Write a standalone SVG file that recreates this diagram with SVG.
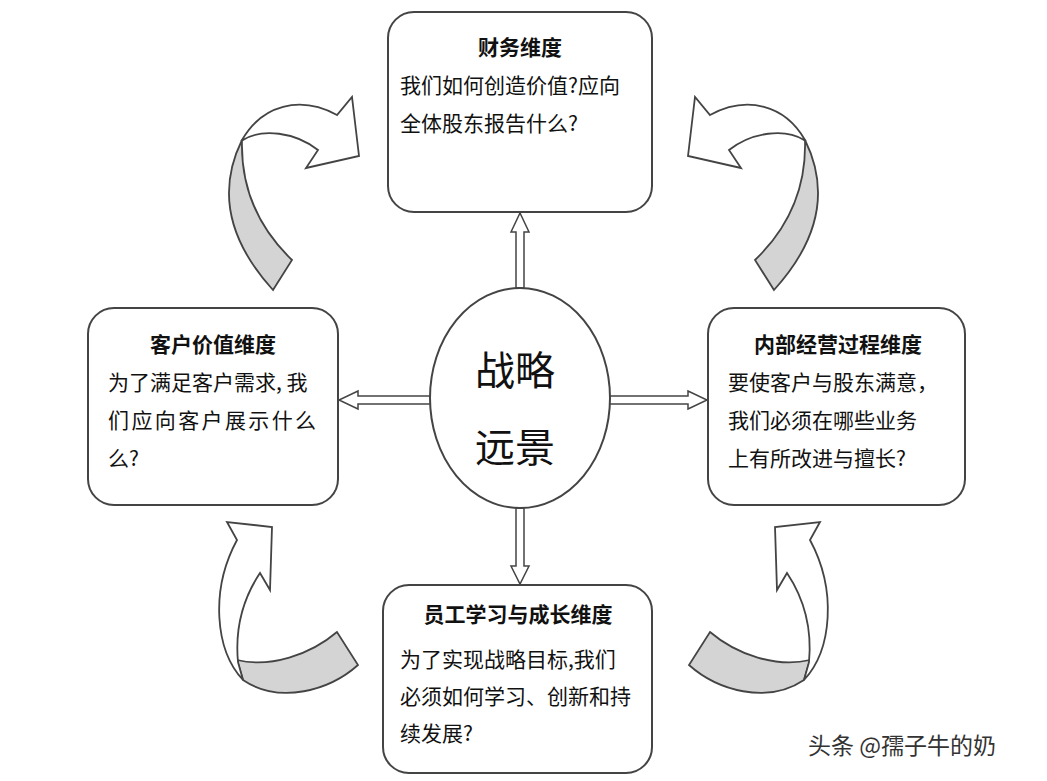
<svg xmlns="http://www.w3.org/2000/svg" width="1047" height="781" viewBox="0 0 1047 781">
<style>
.box{fill:#fff;stroke:#444;stroke-width:2}
.t{font-family:"Noto Sans CJK SC","Liberation Sans",sans-serif;font-size:21px;fill:#111}
.b{font-weight:bold;text-anchor:middle}
.big{font-size:40px;text-anchor:middle}
.band{fill:#d4d4d4;stroke:#444;stroke-width:1.8}
.head{fill:#fff;stroke:#444;stroke-width:1.8}
.da{fill:#fff;stroke:#444;stroke-width:1.5}
</style>
<defs>
<g id="curl-tl">
<path class="band" d="M273,290 Q205,215 242,140 Q240,210 292,260 Z"/>
<path class="head" d="M242,140 C262,105 300,95 337,115 L352,97 L359,156 L306,168 L318,150 C295,132 262,128 243,140 Z"/>
</g>
<g id="curl-bl">
<path class="band" d="M358,665 C330,690 280,705 243,680 L237,660 C270,668 310,655 337,632 Z"/>
<path class="head" d="M243,680 C215,650 210,590 237,540 L227,522 L272,527 L270,590 L260,573 C242,600 235,630 238,662 Z"/>
</g>
</defs>
<rect width="1047" height="781" fill="#fff"/>
<g id="connectors">
<use href="#curl-tl"/>
<use href="#curl-tl" transform="translate(1047,0) scale(-1,1)"/>
<use href="#curl-bl"/>
<use href="#curl-bl" transform="translate(1047,0) scale(-1,1)"/>
<polygon class="da" points="516,288 516,232 511,232 520,213 529,232 524,232 524,288"/>
<polygon class="da" points="516,508 516,566 511,566 520,584 529,566 524,566 524,508"/>
<polygon class="da" points="431,396 358,396 358,391 339,400 358,409 358,404 431,404"/>
<polygon class="da" points="609,396 688,396 688,391 707,400 688,409 688,404 609,404"/>
</g>
<g id="finance">
<rect class="box" x="388" y="12" width="264" height="200" rx="26"/>
<text class="t b" x="520" y="55">财务维度</text>
<text class="t" x="400" y="93">我们如何创造价值?应向</text>
<text class="t" x="400" y="131">全体股东报告什么?</text>
</g>
<g id="customer">
<rect class="box" x="88" y="308" width="250" height="197" rx="26"/>
<text class="t b" x="213" y="352">客户价值维度</text>
<text class="t" x="108" y="390">为了满足客户需求, 我</text>
<text class="t" x="108" y="428" textLength="208" lengthAdjust="spacing">们应向客户展示什么</text>
<text class="t" x="108" y="466">么?</text>
</g>
<g id="internal">
<rect class="box" x="708" y="308" width="257" height="197" rx="26"/>
<text class="t b" x="838" y="352">内部经营过程维度</text>
<text class="t" x="728" y="390">要使客户与股东满意，</text>
<text class="t" x="728" y="428">我们必须在哪些业务</text>
<text class="t" x="728" y="466">上有所改进与擅长?</text>
</g>
<g id="learning">
<rect class="box" x="383" y="585" width="269" height="188" rx="26"/>
<text class="t b" x="518" y="622">员工学习与成长维度</text>
<text class="t" x="400" y="667">为了实现战略目标,我们</text>
<text class="t" x="400" y="704">必须如何学习、创新和持</text>
<text class="t" x="400" y="741">续发展?</text>
</g>
<g id="vision">
<ellipse cx="520" cy="398" rx="90" ry="110" fill="#fff" stroke="#444" stroke-width="2"/>
<text class="t big" x="515" y="385">战略</text>
<text class="t big" x="515" y="462">远景</text>
</g>
<text class="t" x="808" y="754" style="font-size:23px;fill:#333">头条 @孺子牛的奶</text>
</svg>
